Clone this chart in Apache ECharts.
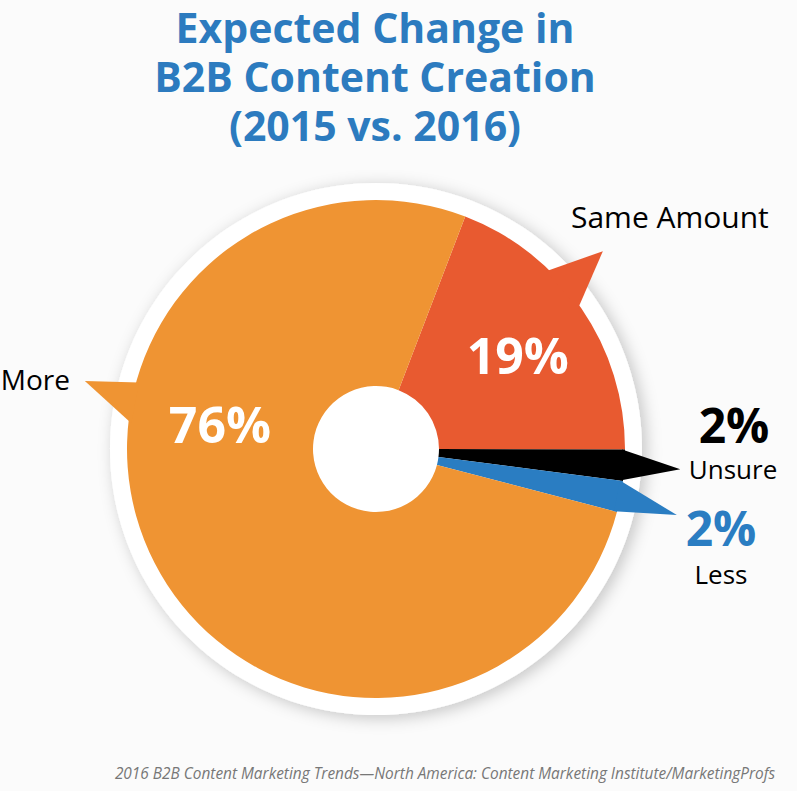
<!DOCTYPE html>
<html><head><meta charset="utf-8">
<script src="https://cdn.jsdelivr.net/npm/echarts@6/dist/echarts.min.js"></script>
<style>html,body{margin:0;padding:0;background:#fbfbfb}#c{width:797px;height:791px}</style>
</head><body><div id="c"></div>
<script>
// ---- data ----
const categories = ['Same Amount', 'Unsure', 'Less', 'More'];
const values = [19, 2, 2, 76];
const titleLines = ['Expected Change in', 'B2B Content Creation', '(2015 vs. 2016)'];
const sourceText = '2016 B2B Content Marketing Trends\u2014North America: Content Marketing Institute/MarketingProfs';

// ---- styles / layout ----
const sliceColors = ['#E85A30', '#000000', '#2A7DC2', '#EF9433'];
const pctColors = ['#ffffff', '#000000', '#2A7DC2', '#ffffff'];
const CX = 376, CY = 449, R0 = 63, R = 249, RING = 266, START = 69;
const FONT = '"Open Sans", "Noto Sans", sans-serif';
const TITLE_TOPS = [5, 54, 103];

// callout tails: positions as fractions along the slice arc, tip radius in px
const callout = {
  'Same Amount': { from: 0.329, to: 0.495, tip: 0.404, tipR: 301 },
  'Unsure':      { from: 0.0,   to: 1.0,   tip: 0.51,  tipR: 305 },
  'Less':        { from: 0.0,   to: 1.0,   tip: 0.69,  tipR: 308 },
  'More':        { from: 0.620, to: 0.655, tip: 0.646, tipR: 299 }
};
// label placement
const labelPos = {
  'Same Amount': { pctIn: { f: 0.514, r: 170 }, name: { x: 571, y: 216, align: 'left' } },
  'More':        { pctIn: { f: 0.631, r: 158 }, name: { x: 70,  y: 379, align: 'right' } },
  'Unsure':      { pctOut: { x: 734, y: 424 }, name: { x: 733, y: 469, align: 'center' } },
  'Less':        { pctOut: { x: 721, y: 527 }, name: { x: 721, y: 574, align: 'center' } }
};

const total = values.reduce((a, b) => a + b, 0);
function sliceAngles(i) {
  let before = 0;
  for (let k = 0; k < i; k++) before += values[k];
  return [START - before / total * 360, START - (before + values[i]) / total * 360];
}
function pt(deg, r) {
  const a = deg * Math.PI / 180;
  return [CX + r * Math.cos(a), CY - r * Math.sin(a)];
}

const chart = echarts.init(document.getElementById('c'), null, { renderer: 'svg' });
chart.setOption({
  backgroundColor: '#fbfbfb',
  animation: false,
  title: titleLines.map((t, k) => ({
    text: t,
    left: 375, top: TITLE_TOPS[k], textAlign: 'center', padding: 0,
    textStyle: { fontFamily: FONT, fontSize: 41, fontWeight: 'bold', color: '#2C7BBF', lineHeight: 44 }
  })).concat([{
    text: sourceText,
    left: 445, top: 764, textAlign: 'center', padding: 0,
    textStyle: { fontFamily: FONT, fontSize: 15.4, fontStyle: 'italic', fontWeight: 'normal', color: '#777777', lineHeight: 18 }
  }]),
  series: [
    {
      type: 'pie', silent: true, z: 1,
      center: [CX, CY], radius: [0, RING],
      label: { show: false }, labelLine: { show: false },
      emphasis: { disabled: true },
      data: [{ value: 1, itemStyle: { color: '#ffffff', shadowBlur: 16, shadowColor: 'rgba(0,0,0,0.22)', shadowOffsetX: 4, shadowOffsetY: 3 } }]
    },
    {
      type: 'pie', silent: true, z: 2,
      center: [CX, CY], radius: [R0, R],
      startAngle: START, clockwise: true,
      avoidLabelOverlap: false,
      label: { show: false }, labelLine: { show: false },
      emphasis: { disabled: true },
      itemStyle: { borderWidth: 0 },
      data: categories.map((c, i) => ({ name: c, value: values[i], itemStyle: { color: sliceColors[i] } }))
    },
    {
      type: 'custom', coordinateSystem: 'none', silent: true, z: 3,
      data: categories.map((c, i) => [i]),
      renderItem: function (params, api) {
        const i = api.value(0);
        const name = categories[i];
        const [a0, a1] = sliceAngles(i);
        const lerp = f => a0 + (a1 - a0) * f;
        const cfg = callout[name];
        const b0 = pt(lerp(cfg.from), R - 3);
        const b1 = pt(lerp(cfg.to), R - 3);
        const tip = pt(lerp(cfg.tip), cfg.tipR);
        const children = [{
          type: 'polygon',
          shape: { points: [b0, tip, b1] },
          style: { fill: sliceColors[i] }
        }];
        const lp = labelPos[name];
        const pctText = values[i] + '%';
        if (lp.pctIn) {
          const p = pt(lerp(lp.pctIn.f), lp.pctIn.r);
          children.push({ type: 'text', style: { text: pctText, x: p[0], y: p[1], align: 'center', verticalAlign: 'middle',
            fill: pctColors[i], font: 'bold 50px ' + FONT, lineHeight: 50 } });
        }
        if (lp.pctOut) {
          children.push({ type: 'text', style: { text: pctText, x: lp.pctOut.x, y: lp.pctOut.y, align: 'center', verticalAlign: 'middle',
            fill: pctColors[i], font: 'bold 48px ' + FONT, lineHeight: 44 } });
        }
        const nameSize = (name === 'Unsure' || name === 'Less') ? 26 : (name === 'More' ? 28 : 30);
        children.push({ type: 'text', style: { text: name, x: lp.name.x, y: lp.name.y, align: lp.name.align, verticalAlign: 'middle',
          fill: '#000000', font: nameSize + 'px ' + FONT, lineHeight: nameSize } });
        return { type: 'group', children: children };
      }
    }
  ]
});
</script>
</body></html>
